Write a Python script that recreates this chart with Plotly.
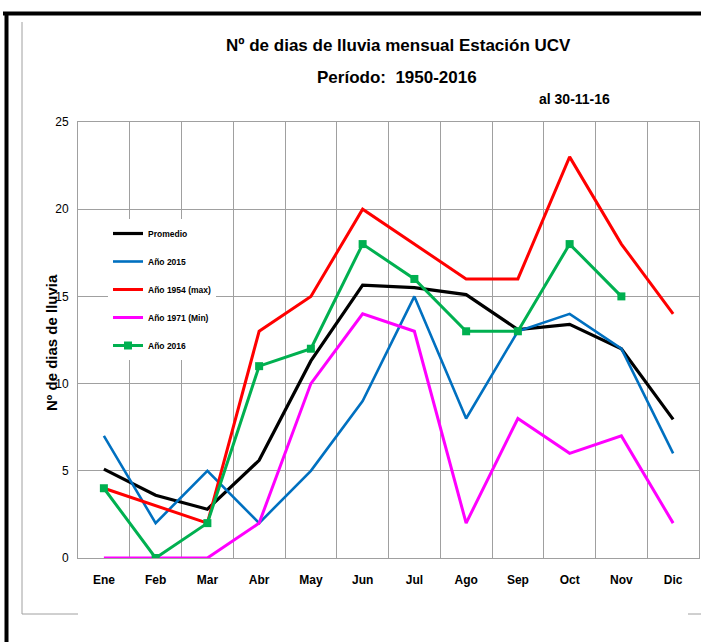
import plotly.graph_objects as go

months = ["Ene", "Feb", "Mar", "Abr", "May", "Jun", "Jul", "Ago", "Sep", "Oct", "Nov", "Dic"]
promedio = [5.1, 3.6, 2.8, 5.6, 11.3, 15.65, 15.5, 15.1, 13.1, 13.4, 12.0, 7.95]
anio_2015 = [7, 2, 5, 2, 5, 9, 15, 8, 13, 14, 12, 6]
anio_1954 = [4, 3, 2, 13, 15, 20, 18, 16, 16, 23, 18, 14]
anio_1971 = [0, 0, 0, 2, 10, 14, 13, 2, 8, 6, 7, 2]
anio_2016 = [4, 0, 2, 11, 12, 18, 16, 13, 13, 18, 15, None]
y_ticks = [0, 5, 10, 15, 20, 25]

SANS = "Liberation Sans, Arial, sans-serif"
W, H = 701, 642
ML, MR, MT, MB = 78, 2, 122, 84
PW, PH = W - ML - MR, H - MT - MB


def px(x):
    return (x - ML) / PW


def py(y):
    return (H - MB - y) / PH


fig = go.Figure()
series = [
    ("Promedio", promedio, "#000000", 3.2, None),
    ("Año 2015", anio_2015, "#0070C0", 2.6, None),
    ("Año 1954 (max)", anio_1954, "#FF0000", 3, None),
    ("Año 1971 (Min)", anio_1971, "#FF00FF", 3, None),
    ("Año 2016", anio_2016, "#00B050", 3, "square"),
]
for i, (name, vals, color, width, marker) in enumerate(series):
    fig.add_trace(go.Scatter(
        x=months, y=vals, name=name, legendgroup=f"g{i}",
        mode="lines+markers" if marker else "lines",
        line=dict(color=color, width=width),
        marker=dict(symbol=marker or "circle", size=8, color=color),
        connectgaps=False,
    ))

grid = "#A0A0A0"
fig.update_layout(
    width=W, height=H,
    margin=dict(l=ML, r=MR, t=MT, b=MB),
    paper_bgcolor="white", plot_bgcolor="white",
    showlegend=True,
    legend=dict(
        x=px(108), y=py(219), xanchor="left", yanchor="top",
        bgcolor="white", borderwidth=0,
        font=dict(family=SANS, size=8.5, color="black", weight="bold"),
        tracegroupgap=9, itemwidth=30,
    ),
    xaxis=dict(
        type="category", range=[-0.5, 11.5], tickson="boundaries",
        showgrid=True, gridcolor=grid, gridwidth=1,
        showline=True, linecolor=grid, linewidth=1, mirror=True,
        ticks="", ticklabelstandoff=11,
        tickfont=dict(family=SANS, size=12, color="black", weight="bold"),
        zeroline=False,
    ),
    yaxis=dict(
        range=[0, 25], tickvals=y_ticks,
        showgrid=True, gridcolor=grid, gridwidth=1,
        showline=True, linecolor=grid, linewidth=1, mirror=True,
        ticks="", ticklabelstandoff=6,
        tickfont=dict(family=SANS, size=12, color="black"),
        zeroline=False,
    ),
    annotations=[
        dict(text="<b>Nº de dias de lluvia mensual Estación UCV</b>", x=px(398), y=py(45),
             xref="paper", yref="paper", showarrow=False, xanchor="center", yanchor="middle",
             font=dict(family=SANS, size=17, color="black")),
        dict(text="<b>Período:  1950-2016</b>", x=px(397), y=py(78),
             xref="paper", yref="paper", showarrow=False, xanchor="center", yanchor="middle",
             font=dict(family=SANS, size=17, color="black")),
        dict(text="<b>al 30-11-16</b>", x=px(574), y=py(99),
             xref="paper", yref="paper", showarrow=False, xanchor="center", yanchor="middle",
             font=dict(family=SANS, size=14, color="black")),
        dict(text="<b>Nº de dias de lluvia</b>", x=px(51), y=py(343), textangle=-90,
             xref="paper", yref="paper", showarrow=False, xanchor="center", yanchor="middle",
             font=dict(family=SANS, size=15, color="black")),
    ],
    shapes=[
        dict(type="line", xref="paper", yref="paper", x0=px(3), x1=px(701), y0=py(13.5), y1=py(13.5),
             line=dict(color="black", width=4)),
        dict(type="line", xref="paper", yref="paper", x0=px(6.5), x1=px(6.5), y0=py(12), y1=py(642),
             line=dict(color="black", width=4)),
        dict(type="line", xref="paper", yref="paper", x0=px(22), x1=px(22), y0=py(22), y1=py(614),
             line=dict(color="#A0A0A0", width=1)),
        dict(type="line", xref="paper", yref="paper", x0=px(22), x1=px(78), y0=py(614), y1=py(614),
             line=dict(color="#A0A0A0", width=1)),
        dict(type="line", xref="paper", yref="paper", x0=px(688), x1=px(701), y0=py(614), y1=py(614),
             line=dict(color="#A0A0A0", width=1)),
    ],
)

fig.write_html(
    "out.html",
    config={"displayModeBar": False},
    post_script="document.body.style.margin='0';document.body.style.overflow='hidden';",
)
